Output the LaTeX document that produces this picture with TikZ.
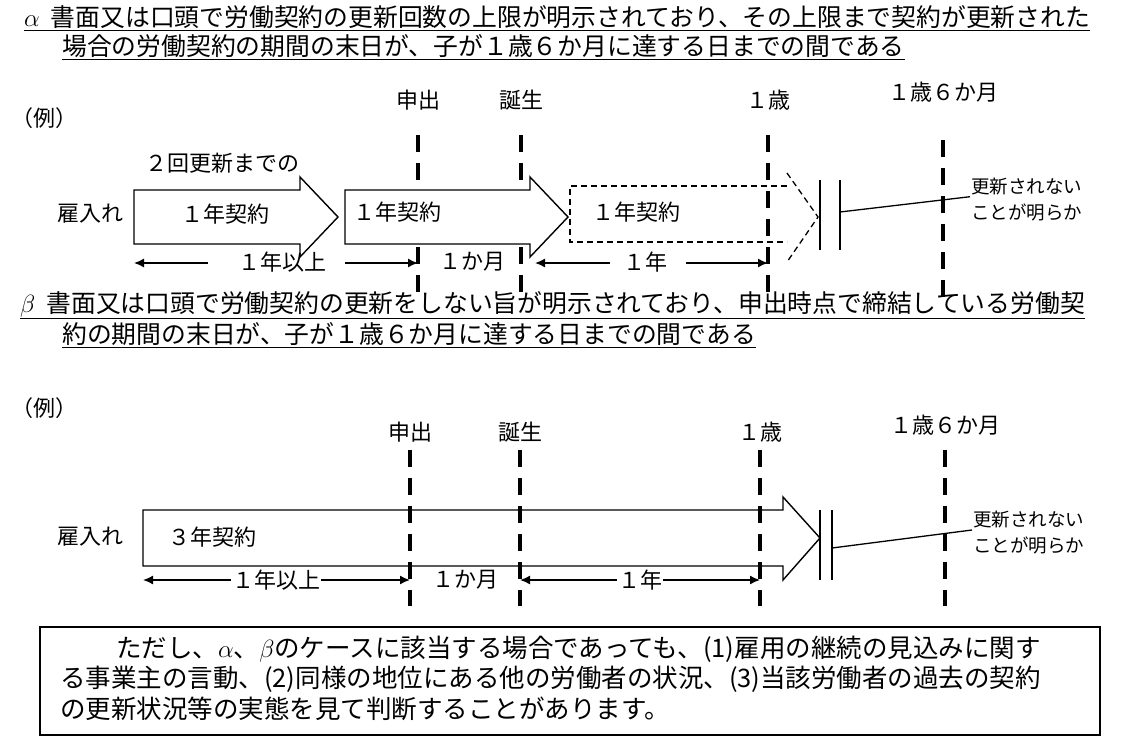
\documentclass[tikz,border=0pt]{standalone}
\usepackage{fontspec}
\setmainfont{Noto Sans CJK JP}
\usetikzlibrary{arrows.meta}
\begin{document}
\begin{tikzpicture}[x=1pt,y=-1pt,
  title/.style={anchor=west,inner sep=0pt,font=\fontsize{24.8}{28}\selectfont},
  note/.style={anchor=west,inner sep=0pt,font=\fontsize{25.5}{28}\selectfont},
  lbl/.style={inner sep=1pt,font=\fontsize{22}{26}\selectfont},
  small/.style={inner sep=1pt,anchor=west,font=\fontsize{18.5}{22}\selectfont},
  vdash/.style={line width=4pt,dash pattern=on 17pt off 11pt},
  box/.style={line width=1.4pt,fill=white},
  dim/.style={line width=1.5pt,-{Latex[length=10pt,width=9pt]}},
  thin/.style={line width=1.3pt}]
\useasboundingbox (0,0) rectangle (1124,744);
% ---------- alpha ----------
\node[title] (a1) at (24,18) {\underline{$\alpha$\ \ 書面又は口頭で労働契約の更新回数の上限が明示されており、その上限まで契約が更新された}};
\node[title] (a2) at (62,47) {\underline{場合の労働契約の期間の末日が、子が１歳６か月に達する日までの間である}};
\node[lbl] (ex1) at (45,118) {（例）};
\node[lbl] (s1) at (418,100) {申出};
\node[lbl] (b1) at (521,100) {誕生};
\node[lbl] (y1) at (768,100) {１歳};
\node[lbl] (h1) at (943,92) {１歳６か月};
\foreach \x in {418,521,768} \draw[vdash] (\x,135) -- (\x,300);
\draw[vdash] (943,140) -- (943,300);
\node[lbl] (r1) at (222,163) {２回更新までの};
\node[lbl] (e1) at (90,214) {雇入れ};
\draw[box] (134,190) -- (300,190) -- (300,177) -- (338,217) -- (300,257) -- (300,244) -- (134,244) -- cycle;
\draw[box] (345,190) -- (530,190) -- (530,177) -- (568,217) -- (530,257) -- (530,244) -- (345,244) -- cycle;
\draw[line width=1.3pt,dash pattern=on 6pt off 4pt] (787,186) -- (570,186) -- (570,242) -- (787,242);
\draw[line width=1.3pt,dash pattern=on 6pt off 4pt] (787,173) -- (818,217) -- (787,262);
\node[lbl] (c1) at (225,214) {１年契約};
\node[lbl] (c2) at (397,212) {１年契約};
\node[lbl] (c3) at (636,212) {１年契約};
\draw[thin] (820,180) -- (820,250);
\draw[thin] (840,180) -- (840,250);
\node[small] (n1) at (970,187) {更新されない};
\node[small] (n2) at (970,212) {ことが明らか};
\draw[thin] (840,212) -- (n1.south west);
\node[lbl] (d1) at (282,262) {１年以上};
\node[lbl] (d2) at (472,262) {１か月};
\node[lbl] (d3) at (645,262) {１年};
\draw[dim] (208,263) -- (134,263);
\draw[dim] (345,263) -- (418,263);
\draw[dim] (610,263) -- (535,263);
\draw[dim] (686,263) -- (768,263);
% ---------- beta ----------
\node[title] (t1) at (20,305) {\underline{$\beta$\ \ 書面又は口頭で労働契約の更新をしない旨が明示されており、申出時点で締結している労働契}};
\node[title] (t2) at (62,335) {\underline{約の期間の末日が、子が１歳６か月に達する日までの間である}};
\node[lbl] (ex2) at (45,408) {（例）};
\node[lbl] (s2) at (410,432) {申出};
\node[lbl] (b2) at (520,432) {誕生};
\node[lbl] (y2) at (760,432) {１歳};
\node[lbl] (h2) at (945,425) {１歳６か月};
\foreach \x in {410,520,760,945} \draw[vdash] (\x,450) -- (\x,606);
\node[lbl] (e2) at (90,537) {雇入れ};
\draw[box,fill=none] (143,510) -- (783,510) -- (783,497) -- (820,538) -- (783,580) -- (783,566) -- (143,566) -- cycle;
\node[lbl] (c4) at (212,537) {３年契約};
\draw[thin] (820,510) -- (820,580);
\draw[thin] (832,510) -- (832,580);
\node[small] (n3) at (972,520) {更新されない};
\node[small] (n4) at (972,545) {ことが明らか};
\draw[thin] (832,548) -- (972,530);
\node[lbl] (d4) at (276,580) {１年以上};
\node[lbl] (d5) at (465,580) {１か月};
\node[lbl] (d6) at (640,580) {１年};
\draw[dim] (d4.west) -- (143,580);
\draw[dim] (d4.east) -- (410,580);
\draw[dim] (d6.west) -- (520,580);
\draw[dim] (d6.east) -- (760,580);
% ---------- note box ----------
\draw[line width=1.3pt] (40,627) rectangle (1100,735);
\node[note] (m1) at (116,649) {ただし、$\alpha$、$\beta$のケースに該当する場合であっても、(1)雇用の継続の見込みに関す};
\node[note] (m2) at (60,679) {る事業主の言動、(2)同様の地位にある他の労働者の状況、(3)当該労働者の過去の契約};
\node[note] (m3) at (60,709) {の更新状況等の実態を見て判断することがあります。};
\end{tikzpicture}
\end{document}
